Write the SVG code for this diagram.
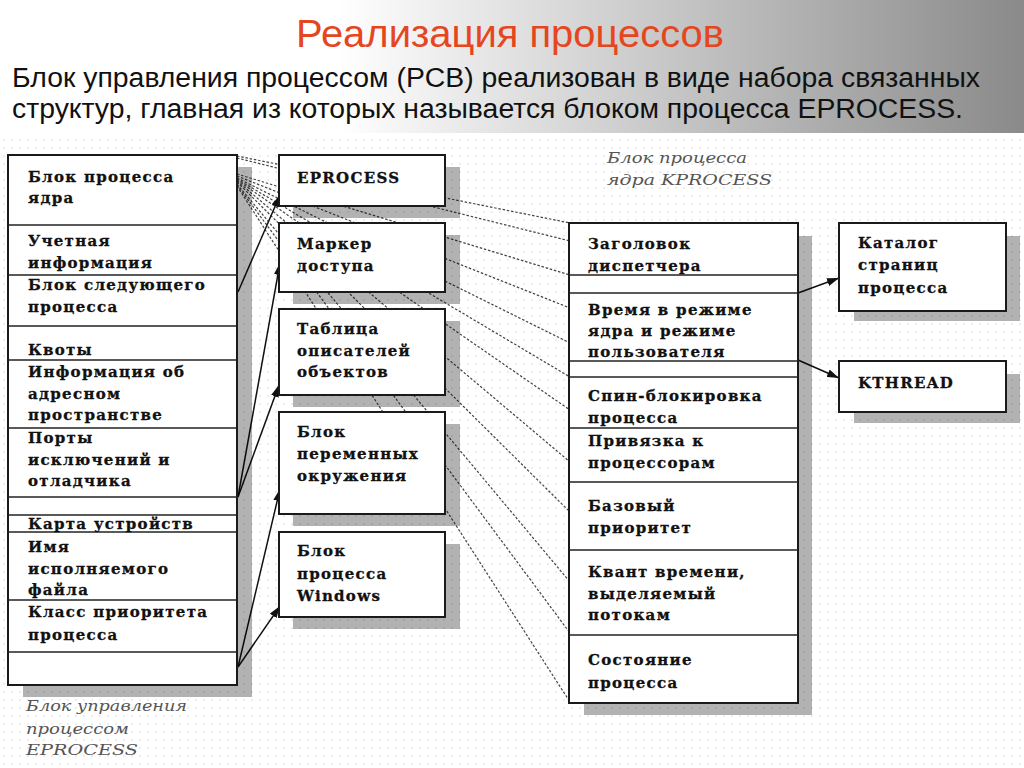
<svg xmlns="http://www.w3.org/2000/svg" width="1024" height="768" viewBox="0 0 1024 768">
<defs>
<linearGradient id="hdr" x1="0" y1="0" x2="1" y2="0">
<stop offset="0" stop-color="#ffffff"/>
<stop offset="0.33" stop-color="#ffffff"/>
<stop offset="1" stop-color="#8a8a8a"/>
</linearGradient>
<pattern id="dots" width="8" height="8" patternUnits="userSpaceOnUse">
<rect width="8" height="8" fill="#ffffff"/>
<circle cx="4" cy="4" r="0.7" fill="#cfcfcf"/>
</pattern>
<marker id="arr" viewBox="0 0 12 8" refX="12" refY="4" markerWidth="12" markerHeight="8" markerUnits="userSpaceOnUse" orient="auto">
<path d="M0,0 L12,4 L0,8 z" fill="#111"/>
</marker>
<style>
.box{fill:#ffffff;stroke:#1a1a1a;stroke-width:2}
.sh{fill:#000;fill-opacity:0.3}
.div{stroke:#222;stroke-width:1.6}
.t{font-family:"DejaVu Serif","Liberation Serif",serif;font-weight:bold;font-size:15px;letter-spacing:1.3px;fill:#111;stroke:#111;stroke-width:0.3}
.cap{font-family:"DejaVu Serif","Liberation Serif",serif;font-style:italic;font-size:15px;fill:#555}
.dash{stroke:#444;stroke-width:1.2;stroke-dasharray:2.5,1.8;fill:none}
.arw{stroke:#111;stroke-width:1.5;fill:none;marker-end:url(#arr)}
</style>
</defs>
<rect x="0" y="0" width="1024" height="768" fill="url(#dots)"/>
<rect x="0" y="0" width="1024" height="133" fill="url(#hdr)"/>
<g id="header">
<text x="296" y="47" textLength="428" lengthAdjust="spacingAndGlyphs" font-family="Liberation Sans, Arial, sans-serif" font-size="38" fill="#E5461E">Реализация процессов</text>
<text x="12" y="87" textLength="968" lengthAdjust="spacingAndGlyphs" font-family="Liberation Sans, Arial, sans-serif" font-size="27" fill="#111">Блок управления процессом (PCB) реализован в виде набора связанных</text>
<text x="12" y="118" textLength="951" lengthAdjust="spacingAndGlyphs" font-family="Liberation Sans, Arial, sans-serif" font-size="27" fill="#111">структур, главная из которых называется блоком процесса EPROCESS.</text>
</g>

<g id="connectors">
<line class="dash" x1="237" y1="156" x2="570" y2="223"/>
<line class="dash" x1="237" y1="158" x2="570" y2="241"/>
<line class="dash" x1="237" y1="174" x2="570" y2="275"/>
<line class="dash" x1="237" y1="176" x2="570" y2="308"/>
<line class="dash" x1="237" y1="178" x2="570" y2="343"/>
<line class="dash" x1="237" y1="179" x2="570" y2="377"/>
<line class="dash" x1="237" y1="180" x2="570" y2="410"/>
<line class="dash" x1="237" y1="181" x2="570" y2="462"/>
<line class="dash" x1="237" y1="182" x2="570" y2="512"/>
<line class="dash" x1="237" y1="184" x2="570" y2="582"/>
<line class="dash" x1="237" y1="185" x2="570" y2="633"/>
<line class="dash" x1="237" y1="186" x2="570" y2="702"/>
<line class="arw" x1="238" y1="292" x2="280" y2="195"/>
<line class="arw" x1="238" y1="497" x2="280" y2="263"/>
<line class="arw" x1="238" y1="497" x2="279" y2="385"/>
<line class="arw" x1="238" y1="667" x2="280" y2="489"/>
<line class="arw" x1="238" y1="667" x2="280" y2="606"/>
<line class="arw" x1="798" y1="293" x2="839" y2="278"/>
<line class="arw" x1="798" y1="360" x2="839" y2="378"/>
</g>

<g id="eprocess-pcb">
<path class="sh" d="M238,167 H252 V697 H23 V686 H238 Z"/>
<rect class="box" x="8" y="155" width="229" height="530"/>
<line class="div" x1="8" y1="225" x2="237" y2="225"/>
<line class="div" x1="8" y1="275" x2="237" y2="275"/>
<line class="div" x1="8" y1="326" x2="237" y2="326"/>
<line class="div" x1="8" y1="360" x2="237" y2="360"/>
<line class="div" x1="8" y1="428" x2="237" y2="428"/>
<line class="div" x1="8" y1="497" x2="237" y2="497"/>
<line class="div" x1="8" y1="515" x2="237" y2="515"/>
<line class="div" x1="8" y1="532" x2="237" y2="532"/>
<line class="div" x1="8" y1="600" x2="237" y2="600"/>
<line class="div" x1="8" y1="652" x2="237" y2="652"/>
<text class="t" x="28" y="182">Блок процесса</text>
<text class="t" x="28" y="203">ядра</text>
<text class="t" x="28" y="246">Учетная</text>
<text class="t" x="28" y="268">информация</text>
<text class="t" x="28" y="290">Блок следующего</text>
<text class="t" x="28" y="312">процесса</text>
<text class="t" x="28" y="355">Квоты</text>
<text class="t" x="28" y="377">Информация об</text>
<text class="t" x="28" y="399">адресном</text>
<text class="t" x="28" y="420">пространстве</text>
<text class="t" x="28" y="443">Порты</text>
<text class="t" x="28" y="465">исключений и</text>
<text class="t" x="28" y="486">отладчика</text>
<text class="t" x="28" y="529">Карта устройств</text>
<text class="t" x="28" y="552">Имя</text>
<text class="t" x="28" y="574">исполняемого</text>
<text class="t" x="28" y="595">файла</text>
<text class="t" x="28" y="617">Класс приоритета</text>
<text class="t" x="28" y="640">процесса</text>
</g>
<g id="caption-eprocess">
<text class="cap" x="26" y="711" textLength="161" lengthAdjust="spacingAndGlyphs">Блок управления</text>
<text class="cap" x="26" y="734" textLength="103" lengthAdjust="spacingAndGlyphs">процессом</text>
<text class="cap" x="26" y="755" textLength="112" lengthAdjust="spacingAndGlyphs">EPROCESS</text>
</g>

<g id="n-eprocess">
<path class="sh" d="M446,167 H460 V218 H293 V207 H446 Z"/>
<rect class="box" x="279" y="155" width="166" height="51"/>
<text class="t" x="297" y="183">EPROCESS</text>
</g>
<g id="n-token">
<path class="sh" d="M446,235 H460 V304 H293 V293 H446 Z"/>
<rect class="box" x="279" y="223" width="166" height="69"/>
<text class="t" x="297" y="249">Маркер</text>
<text class="t" x="297" y="271">доступа</text>
</g>
<g id="n-handles">
<path class="sh" d="M446,321 H460 V407 H293 V396 H446 Z"/>
<rect class="box" x="279" y="309" width="166" height="86"/>
<text class="t" x="297" y="334">Таблица</text>
<text class="t" x="297" y="356">описателей</text>
<text class="t" x="297" y="377">объектов</text>
</g>
<g id="n-env">
<path class="sh" d="M446,424 H460 V526 H293 V515 H446 Z"/>
<rect class="box" x="279" y="412" width="166" height="102"/>
<text class="t" x="297" y="437">Блок</text>
<text class="t" x="297" y="459">переменных</text>
<text class="t" x="297" y="481">окружения</text>
</g>
<g id="n-win32">
<path class="sh" d="M446,544 H460 V629 H293 V618 H446 Z"/>
<rect class="box" x="279" y="532" width="166" height="85"/>
<text class="t" x="297" y="556">Блок</text>
<text class="t" x="297" y="579">процесса</text>
<text class="t" x="297" y="601">Windows</text>
</g>

<g id="caption-kprocess">
<text class="cap" x="607" y="163" textLength="140" lengthAdjust="spacingAndGlyphs">Блок процесса</text>
<text class="cap" x="607" y="185" textLength="165" lengthAdjust="spacingAndGlyphs">ядра KPROCESS</text>
</g>
<g id="kprocess">
<path class="sh" d="M799,236 H812 V715 H584 V704 H799 Z"/>
<rect class="box" x="569" y="223" width="229" height="480"/>
<line class="div" x1="569" y1="275" x2="798" y2="275"/>
<line class="div" x1="569" y1="293" x2="798" y2="293"/>
<line class="div" x1="569" y1="361" x2="798" y2="361"/>
<line class="div" x1="569" y1="377" x2="798" y2="377"/>
<line class="div" x1="569" y1="428" x2="798" y2="428"/>
<line class="div" x1="569" y1="482" x2="798" y2="482"/>
<line class="div" x1="569" y1="550" x2="798" y2="550"/>
<line class="div" x1="569" y1="635" x2="798" y2="635"/>
<text class="t" x="588" y="249">Заголовок</text>
<text class="t" x="588" y="271">диспетчера</text>
<text class="t" x="588" y="315">Время в режиме</text>
<text class="t" x="588" y="336">ядра и режиме</text>
<text class="t" x="588" y="357">пользователя</text>
<text class="t" x="588" y="401">Спин-блокировка</text>
<text class="t" x="588" y="423">процесса</text>
<text class="t" x="588" y="446">Привязка к</text>
<text class="t" x="588" y="468">процессорам</text>
<text class="t" x="588" y="511">Базовый</text>
<text class="t" x="588" y="533">приоритет</text>
<text class="t" x="588" y="577">Квант времени,</text>
<text class="t" x="588" y="599">выделяемый</text>
<text class="t" x="588" y="620">потокам</text>
<text class="t" x="588" y="665">Состояние</text>
<text class="t" x="588" y="688">процесса</text>
</g>

<g id="n-pagedir">
<path class="sh" d="M1007,236 H1020 V321 H854 V312 H1007 Z"/>
<rect class="box" x="839" y="223" width="167" height="88"/>
<text class="t" x="858" y="248">Каталог</text>
<text class="t" x="858" y="270">страниц</text>
<text class="t" x="858" y="293">процесса</text>
</g>
<g id="n-kthread">
<path class="sh" d="M1007,374 H1020 V423 H854 V413 H1007 Z"/>
<rect class="box" x="839" y="361" width="167" height="51"/>
<text class="t" x="858" y="388">KTHREAD</text>
</g>
</svg>
